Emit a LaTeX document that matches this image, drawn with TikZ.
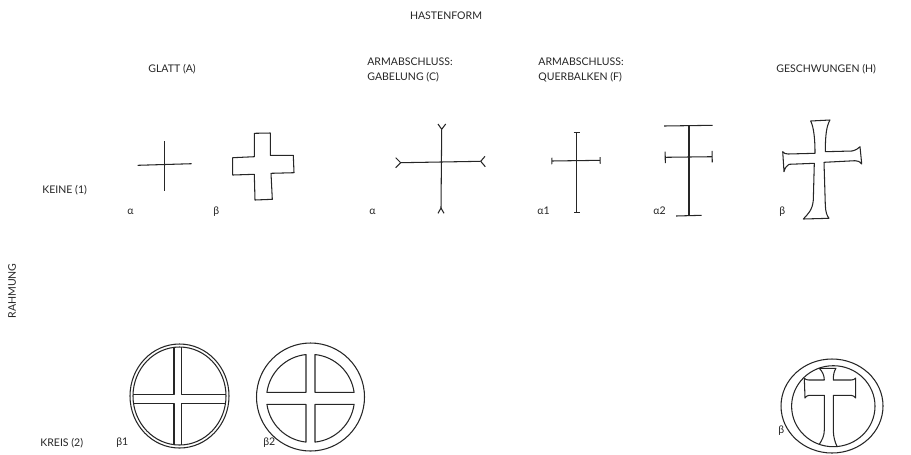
\documentclass[tikz,border=0pt]{standalone}
\usepackage{fontspec}
\setmainfont{Lato}
\usetikzlibrary{arrows.meta,calc}
\definecolor{ink}{HTML}{262626}
\tikzset{
  head/.style={font=\fontsize{6}{8.5}\selectfont, text=ink, align=left, anchor=base west, inner sep=0pt},
  line/.style={draw=ink, line width=0.6pt, line join=round},
  bars/.style={line, {Bar[width=#1]}-{Bar[width=#1]}},
}

\begin{document}
\begin{tikzpicture}[x=0.02cm, y=-0.02cm]
    \useasboundingbox (0,0) rectangle (911,454);
    % heads
    \node[head, anchor=base] (hasten) at (446,19) {HASTENFORM};
    \node[head] (glatt) at (148,72) {GLATT (A)};
    \node[head, anchor=north west] (gabel) at (367,57.5) {ARMABSCHLUSS:\\GABELUNG (C)};
    \node[head, anchor=north west] (quer) at (538,57.5) {ARMABSCHLUSS:\\QUERBALKEN (F)};
    \node[head] (geschw) at (776,72) {GESCHWUNGEN (H)};
    \node[head] (keine) at (42,193) {KEINE (1)};
    \node[head] (kreis) at (40,446) {KREIS (2)};
    \node[head, anchor=center, rotate=90] (rahmung) at (12,291) {RAHMUNG};
    \foreach \x/\y/\t [count=\i] in {127/214/α, 213/214/β, 369/214/α, 537/214/α1, 653/214/α2,
        779/214/β, 116/445/β1, 263/445/β2, 778/433/β}
      \node[head] (var\i) at (\x,\y) {\t};
    % glatt
    \draw[line] (137.7,165.3) -- (191.7,163.7);
    \draw[line] (164.3,141) -- (164.3,191);
    \draw[line] (254.3,133.3) -- (270.3,133) -- (270.3,155.3) -- (293.3,155.3) -- (294,172.7)
      -- (271,173.3) -- (272.3,199.3) -- (255,200) -- (254.3,174.3) -- (232.7,175)
      -- (232.7,157.7) -- (254.3,156.7) -- cycle;
    % gabelung
    \draw[line] (441.7,129.3) -- (441,208);
    \draw[line] (400.7,162.7) -- (480.7,161.3);
    \draw[line] (438,124) -- (441.7,129.3) -- (445.7,124);
    \draw[line] (438,213.3) -- (441,208) -- (444,213.3);
    \draw[line] (395.7,157.7) -- (400.7,162.7) -- (395.7,167.7);
    \draw[line] (485,156.3) -- (480.7,161.3) -- (485.3,166.7);
    % querbalken
    \draw[bars=1.2mm] (576.7,132.3) -- (576.7,213.3);
    \draw[bars=1.3mm] (551.3,161) -- (600.7,160.3);
    \draw[line] (689,126) -- (689,216);
    \draw[line] (664,126) -- (712.7,125.3);
    \draw[line] (676,216) -- (701.7,215.3);
    \draw[bars=2.3mm] (664.7,157.3) -- (712.7,156.7);
    % geschwungen
    \draw[line] (810.7,121) -- (830,120) .. controls (826.5,126) and (825.3,135) .. (825.3,151.7)
      -- (852,151) .. controls (856,150) and (858.5,148.5) .. (860,146.7)
      -- (861.7,164) .. controls (860,161.5) and (858,160.7) .. (855,160.7)
      -- (824,162.3) -- (825.3,205) .. controls (825.5,212) and (827,216) .. (829,218.3)
      -- (803.3,219) .. controls (808,214) and (812.5,210) .. (813.3,200)
      -- (814.3,163.3) -- (789,164.3) .. controls (786.5,165.5) and (785,168) .. (784,171.7)
      -- (782.7,151.7) .. controls (784,153.3) and (785.5,154) .. (788,154)
      -- (815,153.3) .. controls (815,140) and (814,128) .. (810.7,121) -- cycle;
    % kreis beta1
    \draw[line] (179.5,396) ellipse (49.5 and 52);
    \draw[line] (179.5,396) ellipse (46.5 and 49);
    \begin{scope}
      \clip (179.5,396) ellipse (46.5 and 49);
      \foreach \cx/\cy/\fx/\fy in {174/394.3/120/330, 181.7/394.3/240/330, 174/403.3/120/460, 181.7/403.3/240/460}
        \draw[line] (\cx,\cy) rectangle (\fx,\fy);
    \end{scope}
    % kreis beta2
    \draw[line] (310.5,397) circle (54);
    \foreach \cx/\cy/\a/\b in {306/392.3/187.84/264.13, 315/392.3/275.87/352.16,
        315/404.3/7.84/84.13, 306/404.3/95.87/172.16}
      \draw[line] (\cx,\cy) -- ($(310.5,398.3)+(\a:44)$) arc[start angle=\a, end angle=\b, radius=44] -- cycle;
    % kreis geschwungen
    \draw[line] (832,406) ellipse (51 and 47);
    \draw[line] (833.3,406.2) ellipse (41.7 and 40.5);
    \draw[line] (819.3,444.3) .. controls (822,440) and (824.3,436) .. (824.3,430) -- (824.3,395.3)
      -- (809,395.3) .. controls (807,395.6) and (806,396.5) .. (805,398)
      -- (804.3,378.3) .. controls (805.5,379.5) and (807,380) .. (809,380)
      -- (824.3,380) .. controls (824.3,375) and (822,371) .. (819.3,368.3)
      -- (836,368.3) .. controls (834,371) and (833.3,375) .. (833.3,380)
      -- (851,380) .. controls (853,380) and (854.5,379.5) .. (855.7,378)
      -- (855.7,398) .. controls (854.5,396.5) and (853,395.3) .. (851,395.3)
      -- (833.3,395.3) -- (833.3,430) .. controls (833.3,437) and (835,442) .. (837,446.5);
\end{tikzpicture}
\end{document}
